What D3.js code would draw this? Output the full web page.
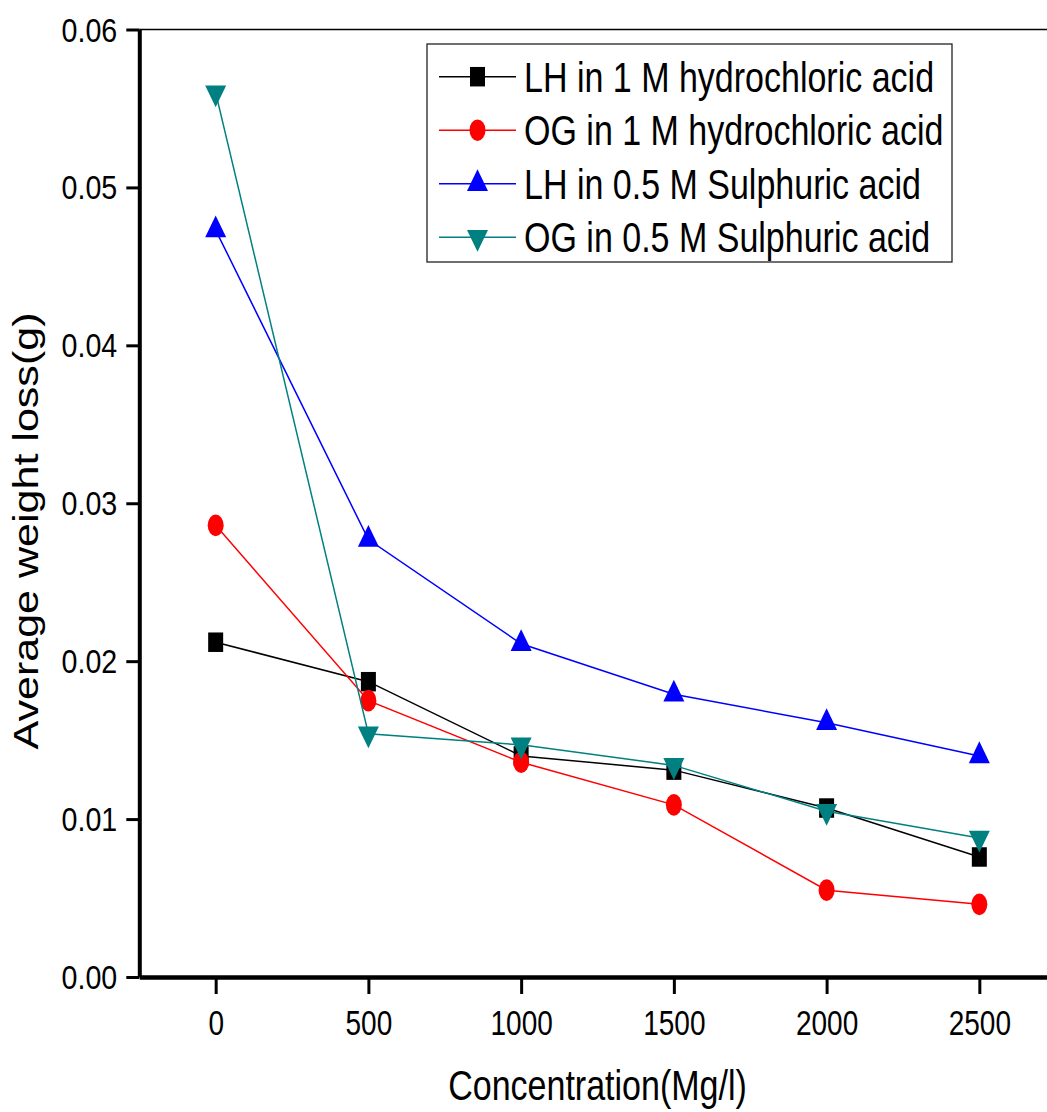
<!DOCTYPE html>
<html>
<head>
<meta charset="utf-8">
<script src="https://cdn.jsdelivr.net/npm/d3@7"></script>
<style>
  body { margin: 0; background: #fff; }
  text { font-family: "Liberation Sans", Arial, sans-serif; fill: #000; }
</style>
</head>
<body>
<div id="chart"></div>
<script>
// data
const concentration = [0, 500, 1000, 1500, 2000, 2500];
const lhHcl   = [0.0212, 0.0187, 0.0140, 0.0131, 0.0107, 0.0076];
const ogHcl   = [0.0286, 0.0175, 0.0136, 0.0109, 0.0055, 0.0046];
const lhH2so4 = [0.0473, 0.0277, 0.0211, 0.0179, 0.0161, 0.0140];
const ogH2so4 = [0.0560, 0.0154, 0.0147, 0.0134, 0.0105, 0.0088];

const seriesNames = [
    "LH in 1 M hydrochloric acid",
    "OG in 1 M hydrochloric acid",
    "LH in 0.5 M Sulphuric acid",
    "OG in 0.5 M Sulphuric acid"
];
const seriesValues = [lhHcl, ogHcl, lhH2so4, ogH2so4];
const seriesColors = ["#000000", "#ff0000", "#0000ff", "#008080"];

const xMajor = [0, 500, 1000, 1500, 2000, 2500];
const xMinor = [-250, 250, 750, 1250, 1750, 2250, 2750];
const yMajor = [0, 0.01, 0.02, 0.03, 0.04, 0.05, 0.06];
const yMinor = [0.005, 0.015, 0.025, 0.035, 0.045, 0.055];

const xTitle = "Concentration(Mg/l)";
const yTitle = "Average weight loss(g)";

// the picture is stretched a little in height, text and symbols follow that
const SY = 1.23;

const width = 1047, height = 1112;

const svg = d3.select("#chart").append("svg")
    .attr("width", width)
    .attr("height", height);

svg.append("rect").attr("width", width).attr("height", height).attr("fill", "#fff");

const x = d3.scaleLinear().domain([-250, 2750]).range([139.3, 1055.7]);
const y = d3.scaleLinear().domain([0, 0.06]).range([977, 29.5]);

// top frame line
svg.append("line")
    .attr("x1", x(-250)).attr("x2", width)
    .attr("y1", y(0.06)).attr("y2", y(0.06))
    .attr("stroke", "#000").attr("stroke-width", 1.3);

// y axis
const yAxisG = svg.append("g").attr("transform", `translate(${x(-250)},0)`);
yAxisG.call(d3.axisLeft(y).tickValues(yMinor).tickSize(7).tickSizeOuter(0).tickFormat(""));
yAxisG.call(d3.axisLeft(y).tickValues(yMajor).tickSize(13).tickSizeOuter(0).tickFormat(d3.format(".2f")));
yAxisG.selectAll(".domain").attr("stroke-width", 4);
yAxisG.selectAll(".tick line").attr("stroke-width", 3);
yAxisG.selectAll(".tick text")
    .attr("x", null).attr("dy", null)
    .attr("font-size", 27)
    .attr("text-anchor", "end")
    .attr("transform", `translate(-22,11.5) scale(1.06,${SY})`);
yAxisG.attr("font-family", null);

// x axis
const xAxisG = svg.append("g").attr("transform", `translate(0,${y(0)})`);
xAxisG.call(d3.axisBottom(x).tickValues(xMinor).tickSize(8).tickSizeOuter(0).tickFormat(""));
xAxisG.call(d3.axisBottom(x).tickValues(xMajor).tickSize(17).tickSizeOuter(0).tickFormat(d3.format("d")));
xAxisG.selectAll(".domain").attr("stroke-width", 4.3);
xAxisG.selectAll(".tick line").attr("stroke-width", 3);
xAxisG.selectAll(".tick text")
    .attr("y", null).attr("dy", null)
    .attr("font-size", 28)
    .attr("text-anchor", "middle")
    .attr("transform", `translate(0,58) scale(1,${SY})`);
xAxisG.attr("font-family", null);

// axis titles
svg.append("text")
    .attr("text-anchor", "middle")
    .attr("font-size", 34)
    .attr("transform", `translate(597.5,1100) scale(1,${SY})`)
    .text(xTitle);

svg.append("text")
    .attr("text-anchor", "middle")
    .attr("font-size", 35)
    .attr("transform", `translate(38,531) rotate(-90) scale(${SY},1)`)
    .text(yTitle);

// markers
const markerDefs = [
    { type: d3.symbolSquare,   size: 225, sy: 1.3 },
    { type: d3.symbolCircle,   size: 201, sy: 1.35 },
    { type: d3.symbolTriangle, size: 191, sy: 1.2 },
    { type: d3.symbolTriangle, size: 191, sy: -1.2 }
];

const line = d3.line()
    .x((d, i) => x(concentration[i]))
    .y(d => y(d));

seriesValues.forEach((vals, s) => {
    const g = svg.append("g").attr("class", "series");
    g.append("path")
        .datum(vals)
        .attr("fill", "none")
        .attr("stroke", seriesColors[s])
        .attr("stroke-width", 1.5)
        .attr("d", line);
    const m = markerDefs[s];
    g.selectAll(".pt")
        .data(vals)
        .join("path")
        .attr("class", "pt")
        .attr("d", d3.symbol().type(m.type).size(m.size))
        .attr("fill", seriesColors[s])
        .attr("transform", (d, i) => `translate(${x(concentration[i])},${y(d)}) scale(1,${m.sy})`);
});

// legend
const legend = svg.append("g").attr("class", "legend");
legend.append("rect")
    .attr("x", 427).attr("y", 44)
    .attr("width", 525).attr("height", 218)
    .attr("fill", "#fff")
    .attr("stroke", "#222")
    .attr("stroke-width", 1.3);

const items = legend.selectAll(".legend-item")
    .data(seriesNames)
    .join("g")
    .attr("class", "legend-item")
    .attr("transform", (d, i) => `translate(0,${76.7 + i * 53.5})`);

items.append("line")
    .attr("x1", 439).attr("x2", 516)
    .attr("stroke", (d, i) => seriesColors[i])
    .attr("stroke-width", 1.5);

items.append("path")
    .attr("d", (d, i) => d3.symbol().type(markerDefs[i].type).size(markerDefs[i].size)())
    .attr("fill", (d, i) => seriesColors[i])
    .attr("transform", (d, i) => `translate(477.5,0) scale(1,${markerDefs[i].sy})`);

items.append("text")
    .attr("font-size", 34)
    .attr("transform", `translate(524,15) scale(1,${SY})`)
    .text(d => d);
</script>
</body>
</html>
